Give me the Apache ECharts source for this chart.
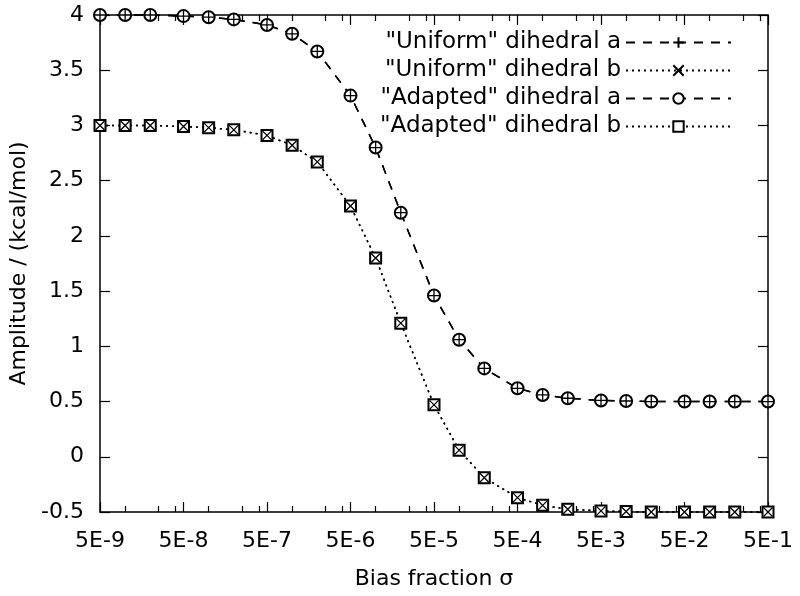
<!DOCTYPE html>
<html><head><meta charset="utf-8">
<script src="https://cdn.jsdelivr.net/npm/echarts@6/dist/echarts.min.js"></script>
<style>html,body{margin:0;padding:0;background:#fff}#c{width:800px;height:596px}</style>
</head><body><div id="c"></div>
<script>
const xValues = [5e-9, 1e-8, 2e-8, 5e-8, 1e-7, 2e-7, 5e-7, 1e-6, 2e-6, 5e-6, 1e-5, 2e-5, 5e-5,
  1e-4, 2e-4, 5e-4, 1e-3, 2e-3, 5e-3, 1e-2, 2e-2, 5e-2, 1e-1, 2e-1, 5e-1];
const uniformA = [4.00, 4.00, 4.00, 3.99, 3.98, 3.96, 3.91, 3.83, 3.67, 3.27, 2.80, 2.21, 1.46,
  1.06, 0.80, 0.62, 0.56, 0.53, 0.51, 0.505, 0.50, 0.50, 0.50, 0.50, 0.50];
const uniformB = [3.00, 3.00, 3.00, 2.99, 2.98, 2.96, 2.91, 2.82, 2.67, 2.27, 1.80, 1.21, 0.47,
  0.06, -0.19, -0.37, -0.44, -0.475, -0.49, -0.495, -0.50, -0.50, -0.50, -0.50, -0.50];
const adaptedA = [4.00, 4.00, 4.00, 3.99, 3.98, 3.96, 3.91, 3.83, 3.67, 3.27, 2.80, 2.21, 1.46,
  1.06, 0.80, 0.62, 0.56, 0.53, 0.51, 0.505, 0.50, 0.50, 0.50, 0.50, 0.50];
const adaptedB = [3.00, 3.00, 3.00, 2.99, 2.98, 2.96, 2.91, 2.82, 2.67, 2.27, 1.80, 1.21, 0.47,
  0.06, -0.19, -0.37, -0.44, -0.475, -0.49, -0.495, -0.50, -0.50, -0.50, -0.50, -0.50];
const xMajorTicks = [5e-9, 5e-8, 5e-7, 5e-6, 5e-5, 5e-4, 5e-3, 5e-2, 5e-1];
const xTickLabels = ['5E-9', '5E-8', '5E-7', '5E-6', '5E-5', '5E-4', '5E-3', '5E-2', '5E-1'];
const xMinorTicks = [1e-8, 2.5e-8, 4e-8, 1e-7, 2.5e-7, 4e-7, 1e-6, 2.5e-6, 4e-6, 1e-5, 2.5e-5, 4e-5,
  1e-4, 2.5e-4, 4e-4, 1e-3, 2.5e-3, 4e-3, 1e-2, 2.5e-2, 4e-2, 1e-1, 2.5e-1, 4e-1];
const names = ['"Uniform" dihedral a', '"Uniform" dihedral b', '"Adapted" dihedral a', '"Adapted" dihedral b'];

const FONT = 'DejaVu Sans';
const BLACK = '#000';
const axLine = {show: true, onZero: false, lineStyle: {color: BLACK, width: 1.5}};
const gridRect = {left: 100, right: 32, top: 15, bottom: 84};

function labelFor(v) {
  let best = 0, bd = Infinity;
  xMajorTicks.forEach((t, i) => { const d = Math.abs(Math.log10(v) - Math.log10(t)); if (d < bd) { bd = d; best = i; } });
  return xTickLabels[best];
}
function xAxisDef(gridIndex, position, ticks, len, withLabels) {
  const ax = {
    type: 'log', logBase: 10, min: 5e-9, max: 0.5, gridIndex, position,
    axisLine: gridIndex === 0 ? axLine : {show: false, onZero: false},
    axisTick: {show: true, inside: true, length: len, customValues: ticks, lineStyle: {color: BLACK, width: 1.2}},
    axisLabel: {show: withLabels},
    splitLine: {show: false}
  };
  if (withLabels) {
    ax.axisLabel = {show: true, customValues: xMajorTicks, formatter: labelFor, color: BLACK,
      fontFamily: FONT, fontSize: 22, margin: 18};
    ax.name = 'Bias fraction σ';
    ax.nameLocation = 'middle';
    ax.nameGap = 56;
    ax.nameTextStyle = {color: BLACK, fontFamily: FONT, fontSize: 22};
  }
  return ax;
}
function pairs(ys) { return xValues.map((x, i) => [x, ys[i]]); }
const dashA = [9, 8];
const dotB = [2, 4];

const option = {
  animation: false,
  backgroundColor: '#fff',
  grid: [Object.assign({}, gridRect), Object.assign({}, gridRect)],
  xAxis: [
    xAxisDef(0, 'bottom', xMajorTicks, 10, true),
    xAxisDef(0, 'top', xMajorTicks, 10, false),
    xAxisDef(1, 'bottom', xMinorTicks, 6, false),
    xAxisDef(1, 'top', xMinorTicks, 6, false)
  ],
  yAxis: [
    {type: 'value', min: -0.5, max: 4, interval: 0.5, gridIndex: 0, position: 'left',
      axisLine: axLine,
      axisTick: {show: true, inside: true, length: 10, lineStyle: {color: BLACK, width: 1.2}},
      axisLabel: {color: BLACK, fontFamily: FONT, fontSize: 22, margin: 16},
      splitLine: {show: false},
      name: 'Amplitude / (kcal/mol)', nameLocation: 'middle', nameGap: 70,
      nameTextStyle: {color: BLACK, fontFamily: FONT, fontSize: 22}},
    {type: 'value', min: -0.5, max: 4, interval: 0.5, gridIndex: 0, position: 'right',
      axisLine: axLine,
      axisTick: {show: true, inside: true, length: 10, lineStyle: {color: BLACK, width: 1.2}},
      axisLabel: {show: false}, splitLine: {show: false}},
    {type: 'value', min: -0.5, max: 4, gridIndex: 1, show: false}
  ],
  legend: {
    data: names, orient: 'vertical', right: 68, top: 31, padding: 0,
    align: 'right', itemWidth: 105, itemHeight: 13, itemGap: 5, selectedMode: false,
    textStyle: {color: BLACK, fontFamily: FONT, fontSize: 23}
  },
  series: [
    {name: names[2], type: 'line', data: pairs(adaptedA), clip: false,
      symbol: 'emptyCircle', symbolSize: 12,
      lineStyle: {color: BLACK, width: 1.5, type: dashA},
      itemStyle: {color: BLACK, borderColor: BLACK, borderWidth: 1.3}},
    {name: names[3], type: 'line', data: pairs(adaptedB), clip: false,
      symbol: 'emptyRect', symbolSize: 11,
      lineStyle: {color: BLACK, width: 1.5, type: dotB},
      itemStyle: {color: BLACK, borderColor: BLACK, borderWidth: 1.3}},
    {name: names[0], type: 'line', data: pairs(uniformA), clip: false,
      symbol: 'path://M0,5L10,5M5,0L5,10', symbolSize: 12,
      lineStyle: {color: BLACK, width: 1.5, type: dashA},
      itemStyle: {color: BLACK, borderColor: BLACK, borderWidth: 1.3}},
    {name: names[1], type: 'line', data: pairs(uniformB), clip: false,
      symbol: 'path://M0,0L10,10M0,10L10,0', symbolSize: 9,
      lineStyle: {color: BLACK, width: 1.5, type: dotB},
      itemStyle: {color: BLACK, borderColor: BLACK, borderWidth: 1.3}}
  ]
};
const chart = echarts.init(document.getElementById('c'), null, {renderer: 'canvas'});
chart.setOption(option);
</script></body></html>
